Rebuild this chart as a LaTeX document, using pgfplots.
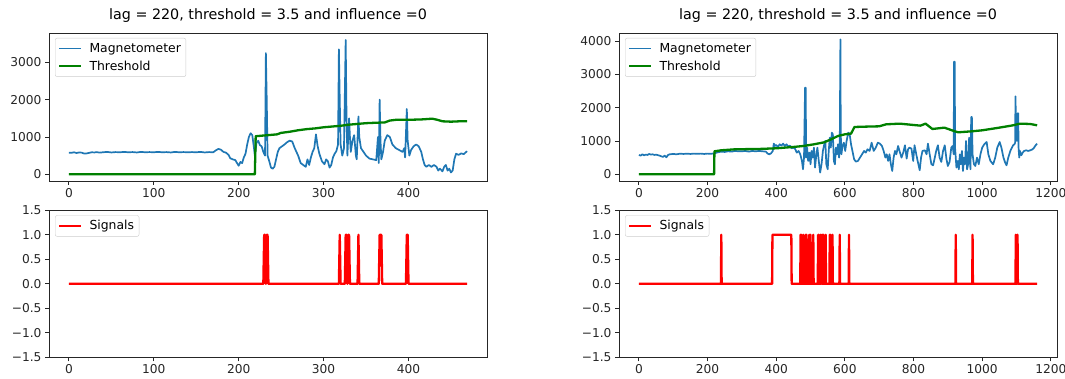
\documentclass[border=0pt]{standalone}
\usepackage{fontspec}
\setmainfont{DejaVu Sans}
\usepackage{pgfplots}
\pgfplotsset{compat=1.18}
\definecolor{mplblue}{RGB}{31,119,180}
\definecolor{mplgreen}{RGB}{0,128,0}
\definecolor{mplred}{RGB}{255,0,0}
\pgfplotsset{
 mpl/.style={
  scale only axis, width=438pt,
  axis line style={black!85, line width=0.9pt},
  tick pos=left, tick align=outside, major tick length=4pt,
  every tick/.style={black!85, line width=0.9pt},
  tick label style={font=\fontsize{12.2}{14}\selectfont, text=black!85},
  /pgf/number format/assume math mode=true,
  /pgf/number format/1000 sep={},
  legend cell align=left,
  legend style={at={(0,1)}, anchor=north west, xshift=6pt, yshift=-5pt, draw=black!20, rounded corners=2pt, font=\fontsize{12.4}{14}\selectfont, inner xsep=3pt, inner ysep=3pt, row sep=3pt,
    /tikz/every odd column/.append style={column sep=5pt}},
  legend image code/.code={\draw[#1] (0pt,0pt) -- (22pt,0pt);},
  title style={font=\fontsize{14.3}{16}\selectfont, anchor=base, inner sep=0pt, yshift=7pt},
 },
 sigaxis/.style={mpl, height=147pt, ymin=-1.5, ymax=1.5,
  ytick={-1.5,-1,-0.5,0,0.5,1,1.5},
  yticklabels={−1.5,−1.0,−0.5,0.0,0.5,1.0,1.5}},
}
\begin{document}
\begin{tikzpicture}
\useasboundingbox (0,0) rectangle (1065pt,378pt);
% ---------------- left top
\begin{axis}[mpl, at={(49pt,197pt)}, anchor=south west, height=148pt,
  xmin=-23.45, xmax=492.45, ymin=-180, ymax=3787,
  xtick={0,100,200,300,400}, ytick={0,1000,2000,3000},
  title={lag = 220, threshold = 3.5 and influence =0}]
\addplot[mplblue, line width=1.7pt, line join=round] coordinates {
(0,580)(3,575)(6,590)(9,570)(12,585)(15,580)(18,555)(21,560)(24,575)(27,590)(30,585)(33,595)(36,580)(40,590)(45,600)(50,585)(55,595)(60,590)(65,600)(70,590)(75,595)(80,585)(85,600)(90,590)(95,595)(100,590)(105,600)(110,590)(115,595)(120,585)(125,600)(130,590)(135,595)(140,590)(145,595)(150,590)(155,600)(160,585)(165,595)(170,590)(173,640)(176,680)(179,660)(182,600)(185,580)(188,520)(190,430)(193,400)(196,380)(198,300)(200,230)(202,330)(204,300)(206,450)(208,550)(210,800)(212,1000)(214,1100)(216,1050)(218,700)(219,500)(221,850)(223,900)(225,780)(227,750)(229,600)(231,500)(232,3250)(233,2000)(234,500)(236,350)(238,180)(240,150)(242,200)(244,400)(246,600)(248,700)(251,750)(254,800)(257,860)(260,900)(263,880)(266,700)(270,500)(273,300)(276,250)(279,200)(281,400)(283,250)(285,450)(287,600)(289,700)(291,1070)(293,750)(295,550)(298,350)(301,270)(303,400)(305,350)(307,180)(309,250)(311,450)(313,550)(315,620)(317,800)(318,3350)(319,2000)(320,800)(322,500)(324,700)(326,3600)(327,1500)(328,500)(330,1500)(331,1000)(332,600)(334,900)(336,1050)(338,500)(339,400)(341,1550)(342,1000)(344,700)(347,600)(350,500)(354,420)(358,400)(362,380)(364,1000)(365,300)(366,2000)(367,900)(368,400)(370,600)(372,900)(375,1050)(378,1000)(381,800)(385,700)(389,650)(393,600)(395,700)(396,450)(398,1750)(399,900)(401,500)(403,650)(406,750)(409,800)(412,750)(415,600)(417,400)(419,250)(421,200)(424,250)(427,200)(430,250)(433,200)(435,100)(437,150)(440,80)(442,200)(444,250)(446,100)(448,150)(450,50)(452,100)(454,400)(456,550)(459,520)(462,560)(465,540)(467,580)(469,620)};
\addlegendentry{Magnetometer}
\addplot[mplgreen, line width=2.3pt, line join=round] coordinates {
(0,0)(219,0)(220,1020)(230,1040)(240,1060)(245,1070)(250,1110)(260,1140)(270,1180)(280,1210)(290,1230)(300,1260)(310,1280)(320,1300)(330,1330)(340,1350)(350,1370)(360,1380)(372,1390)(378,1440)(385,1460)(400,1460)(415,1470)(428,1490)(434,1460)(440,1420)(450,1410)(460,1420)(469,1420)};
\addlegendentry{Threshold}
\end{axis}
% ---------------- left bottom
\begin{axis}[sigaxis, at={(49pt,20.7pt)}, anchor=south west,
  xmin=-23.45, xmax=492.45, xtick={0,100,200,300,400}]
\addplot[mplred, line width=2.3pt, line join=round] coordinates {
(0,0)(229,0)(230,1)(231,1)(232,0)(233,1)(234,1)(235,0)(318,0)(319,1)(320,0)(325,0)(326,1)(327,1)(328,0)(329,1)(330,1)(331,0)(340,0)(341,1)(342,0)(365,0)(366,1)(368,1)(369,0)(397,0)(398,1)(399,1)(400,0)(469,0)};
\addlegendentry{Signals}
\end{axis}
% ---------------- right top
\begin{axis}[mpl, at={(619pt,197pt)}, anchor=south west, height=148pt,
  xmin=-58, xmax=1218, ymin=-202, ymax=4242,
  xtick={0,200,400,600,800,1000,1200}, ytick={0,1000,2000,3000,4000},
  title={lag = 220, threshold = 3.5 and influence =0}]
\addplot[mplblue, line width=1.7pt, line join=round] coordinates {
(0,580)(5,560)(10,600)(15,570)(20,590)(25,580)(30,610)(35,590)(40,600)(45,580)(50,590)(55,575)(60,560)(65,540)(70,520)(75,560)(80,510)(85,580)(90,600)(100,610)(110,600)(120,620)(130,610)(140,620)(150,610)(160,620)(170,615)(180,620)(190,610)(200,620)(210,615)(220,630)(230,660)(240,680)(250,670)(260,690)(270,680)(280,700)(290,690)(300,690)(310,700)(320,680)(330,700)(340,690)(350,700)(360,690)(370,680)(375,620)(380,600)(385,630)(390,700)(393,920)(396,850)(400,880)(405,820)(410,900)(415,860)(420,920)(425,850)(430,900)(435,830)(440,860)(445,780)(450,800)(455,760)(460,650)(465,700)(470,600)(475,400)(478,150)(481,500)(484,2600)(486,2600)(487,500)(490,800)(493,400)(497,650)(500,300)(503,700)(506,500)(510,800)(513,200)(517,600)(520,800)(524,400)(528,50)(532,300)(536,700)(540,900)(543,1000)(546,300)(550,150)(553,700)(556,1100)(559,800)(562,1250)(565,1200)(568,400)(571,300)(574,800)(577,600)(580,900)(583,500)(585,700)(587,4050)(588,1200)(590,600)(593,850)(597,950)(601,700)(605,1000)(610,1250)(614,1200)(618,900)(622,700)(627,450)(632,380)(638,400)(644,500)(650,600)(656,700)(661,650)(666,750)(672,700)(678,950)(684,700)(690,800)(696,950)(702,920)(708,850)(713,700)(718,500)(722,600)(726,400)(730,600)(734,300)(738,100)(742,500)(746,700)(750,600)(755,850)(760,670)(765,500)(770,650)(775,870)(780,470)(784,750)(788,800)(794,770)(799,400)(803,870)(808,600)(812,400)(818,120)(822,500)(826,700)(833,720)(838,600)(842,920)(847,600)(852,300)(857,270)(862,500)(866,700)(871,870)(876,500)(881,370)(886,700)(891,870)(896,450)(900,250)(905,370)(910,800)(914,850)(917,600)(918,3380)(920,3380)(921,800)(925,200)(929,400)(932,150)(935,600)(938,300)(941,700)(944,100)(947,500)(950,300)(953,1000)(956,150)(959,300)(962,1100)(964,400)(966,150)(968,1720)(970,1720)(972,600)(976,300)(980,250)(985,500)(990,300)(995,600)(1000,800)(1006,900)(1013,970)(1018,600)(1024,400)(1032,300)(1038,500)(1044,800)(1051,970)(1056,800)(1062,500)(1067,350)(1071,270)(1076,500)(1082,700)(1090,870)(1094,900)(1096,950)(1097,2340)(1099,1200)(1101,1000)(1103,1830)(1105,1830)(1106,800)(1108,500)(1110,700)(1114,570)(1118,650)(1122,700)(1128,720)(1134,700)(1140,720)(1145,740)(1150,780)(1155,860)(1160,920)};
\addlegendentry{Magnetometer}
\addplot[mplgreen, line width=2.3pt, line join=round] coordinates {
(0,0)(219,0)(220,690)(240,720)(280,750)(350,760)(400,780)(450,820)(480,850)(510,900)(540,960)(560,1050)(580,1150)(600,1200)(618,1220)(628,1420)(660,1430)(700,1440)(720,1500)(760,1520)(800,1480)(820,1460)(835,1520)(855,1360)(890,1400)(920,1290)(930,1260)(970,1290)(1000,1320)(1050,1400)(1090,1470)(1110,1520)(1140,1510)(1160,1470)};
\addlegendentry{Threshold}
\end{axis}
% ---------------- right bottom
\begin{axis}[sigaxis, at={(619pt,20.7pt)}, anchor=south west,
  xmin=-58, xmax=1218, xtick={0,200,400,600,800,1000,1200}]
\addplot[mplred, line width=2.3pt, line join=round] coordinates {
(0,0)(239,0)(240,1)(241,0)(388,0)(389,1)(444,1)(445,0)(470,0)(471,1)(472,0)(473,1)(474,0)(478,0)(479,1)(480,0)(485,0)(486,1)(487,0)(488,1)(489,0)(495,0)(496,1)(497,0)(499,0)(500,1)(501,0)(507,0)(508,1)(509,0)(521,0)(522,1)(523,0)(524,1)(525,0)(528,0)(529,1)(530,0)(532,0)(533,1)(534,0)(535,1)(536,0)(537,0)(538,1)(539,0)(543,0)(544,1)(545,0)(555,0)(556,1)(557,0)(558,1)(559,0)(563,0)(564,1)(565,0)(584,0)(585,1)(586,0)(611,0)(612,1)(613,0)(922,0)(923,1)(924,0)(971,0)(972,1)(973,0)(1097,0)(1098,1)(1099,0)(1101,0)(1102,1)(1103,1)(1104,0)(1160,0)};
\addlegendentry{Signals}
\end{axis}
\end{tikzpicture}
\end{document}
